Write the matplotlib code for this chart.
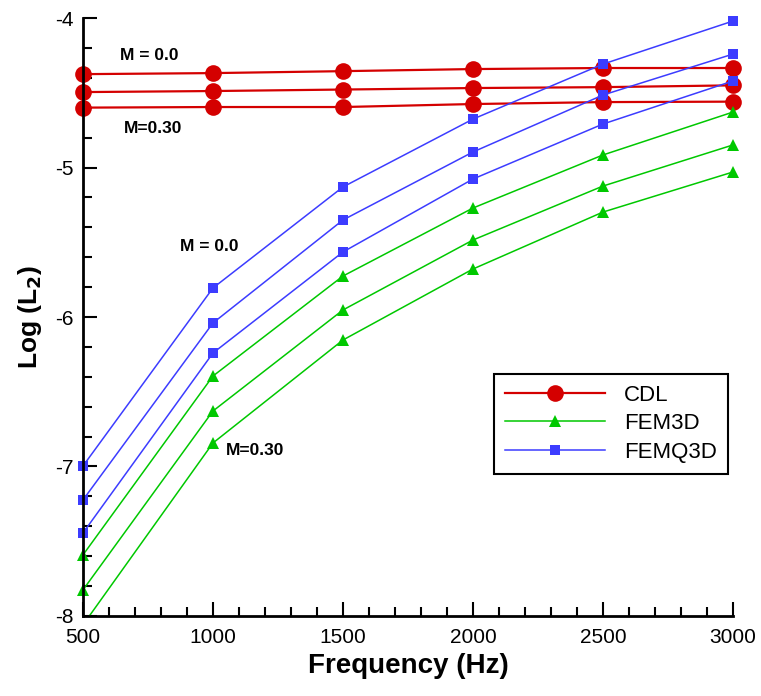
import matplotlib
matplotlib.use("Agg")
import matplotlib.pyplot as plt
from matplotlib.patches import Rectangle
from matplotlib.ticker import MultipleLocator

plt.rcParams["font.family"] = ["Liberation Sans", "DejaVu Sans"]
plt.rcParams["axes.unicode_minus"] = False

freq = [500, 1000, 1500, 2000, 2500, 3000]

# CDL, three Mach numbers (M = 0.0 top ... M = 0.30 bottom)
cdl = [
    [-4.375, -4.368, -4.355, -4.341, -4.334, -4.334],
    [-4.495, -4.488, -4.478, -4.468, -4.462, -4.450],
    [-4.599, -4.595, -4.595, -4.575, -4.562, -4.559],
]
fem3d = [
    [-7.592, -6.395, -5.726, -5.271, -4.916, -4.629],
    [-7.826, -6.629, -5.953, -5.485, -5.124, -4.849],
    [-8.060, -6.843, -6.154, -5.679, -5.298, -5.030],
]
femq3d = [
    [-6.997, -5.806, -5.130, -4.676, -4.308, -4.020],
    [-7.224, -6.040, -5.351, -4.896, -4.515, -4.241],
    [-7.445, -6.241, -5.565, -5.077, -4.709, -4.421],
]

RED = "#d40000"
GREEN = "#00c800"
BLUE = "#3c3cff"

fig = plt.figure(figsize=(7.61, 6.96), dpi=100)
ax = fig.add_axes([0.109, 0.115, 0.854, 0.859])


def draw(series, color, marker, ms, lw, label):
    for i, ys in enumerate(series):
        ln, = ax.plot(freq, ys, color=color, marker=marker, markersize=ms,
                      linewidth=lw, markeredgewidth=0,
                      label=label if i == 0 else None)
        # allow markers to spill over the side spines, but clip at the bottom
        ln.set_clip_path(Rectangle((-0.04, 0), 1.08, 1.06,
                                   transform=ax.transAxes))


draw(cdl, RED, "o", 12, 1.6, "CDL")
draw(fem3d, GREEN, "^", 8.5, 1.1, "FEM3D")
draw(femq3d, BLUE, "s", 7, 1.1, "FEMQ3D")

ax.set_xlim(500, 3000)
ax.set_ylim(-8, -4)
ax.xaxis.set_major_locator(MultipleLocator(500))
ax.xaxis.set_minor_locator(MultipleLocator(100))
ax.yaxis.set_major_locator(MultipleLocator(1))
ax.yaxis.set_minor_locator(MultipleLocator(0.2))
ax.yaxis.set_major_formatter(lambda v, p: f"{v:.0f}")

for s in ("top", "right"):
    ax.spines[s].set_visible(False)
for s in ("left", "bottom"):
    ax.spines[s].set_linewidth(2)

ax.tick_params(which="both", direction="in", width=1.5, labelsize=15)
ax.tick_params(which="major", length=10)
ax.tick_params(which="minor", length=6.5)
ax.tick_params(axis="x", pad=9)
ax.tick_params(axis="y", pad=7)

ax.set_xlabel("Frequency (Hz)", fontsize=20, fontweight="bold", labelpad=4)
ax.set_ylabel("Log (L$_\\mathbf{2}$)", fontsize=19, fontweight="bold", labelpad=8)

ann = dict(fontsize=12.5, fontweight="bold", va="center", ha="left")
ax.text(642, -4.247, "M = 0.0", **ann)
ax.text(658, -4.742, "M=0.30", **ann)
ax.text(873, -5.525, "M = 0.0", **ann)
ax.text(1050, -6.896, "M=0.30", **ann)

leg = ax.legend(loc="upper left", bbox_to_anchor=(0.632, 0.405), fontsize=16,
                numpoints=1, handlelength=4.5, handletextpad=0.85,
                borderpad=0.5, labelspacing=0.33, borderaxespad=0,
                fancybox=False, framealpha=1, edgecolor="black")
leg.get_frame().set_linewidth(1.5)

fig.savefig("out.png", dpi=100)
